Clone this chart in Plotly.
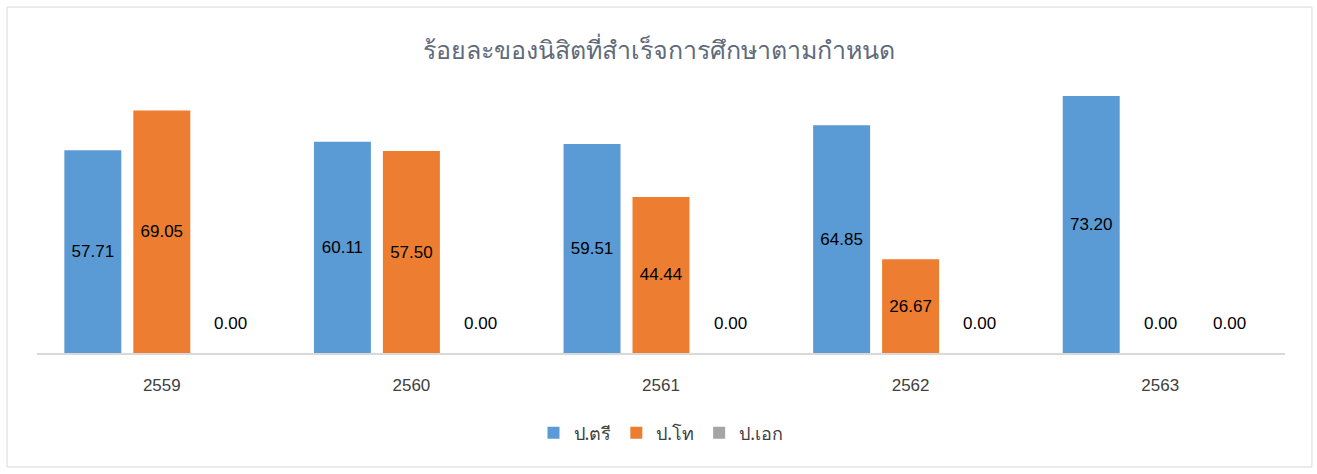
import plotly.graph_objects as go

years = ["2559", "2560", "2561", "2562", "2563"]
series_names = ["ป.ตรี", "ป.โท", "ป.เอก"]
bachelor = [57.71, 60.11, 59.51, 64.85, 73.20]
master = [69.05, 57.50, 44.44, 26.67, 0.00]
doctor = [0.00, 0.00, 0.00, 0.00, 0.00]
colors = ["#5B9BD5", "#ED7D31", "#A5A5A5"]

FONT = "Liberation Sans, Arial, Noto Sans, sans-serif"
THAI = "Noto Sans, DejaVu Sans, sans-serif"

fig = go.Figure()
all_values = [bachelor, master, doctor]
for name, vals, col in zip(series_names, all_values, colors):
    fig.add_trace(
        go.Bar(
            x=years,
            y=vals,
            name=name,
            marker=dict(color=col, line=dict(width=0)),
            text=[f"{v:.2f}" if v > 0 else "" for v in vals],
            textposition="inside",
            insidetextanchor="middle",
            textangle=0,
            textfont=dict(color="#000000", size=17, family=FONT),
            hoverinfo="skip",
        )
    )

# zero-value labels sit a bit above the baseline, as in the original
pitch = 69
for k, vals in enumerate(all_values):
    for i, v in enumerate(vals):
        if v == 0:
            fig.add_annotation(
                x=i, y=0, xref="x", yref="y",
                text=f"{v:.2f}", showarrow=False,
                xshift=(k - 1) * pitch, yshift=30,
                font=dict(color="#000000", size=17, family=FONT),
            )

# light frame around the chart area
fig.add_shape(
    type="rect", xref="paper", yref="paper",
    x0=-0.024, x1=1.0216, y0=-0.4057, y1=1.231,
    line=dict(color="#D9D9D9", width=1), fillcolor="rgba(0,0,0,0)",
    layer="below",
)

fig.update_layout(
    width=1317,
    height=474,
    margin=dict(l=37, r=32, t=72, b=121),
    paper_bgcolor="white",
    plot_bgcolor="white",
    barmode="group",
    bargap=0.171,
    bargroupgap=0.174,
    title=dict(
        text="ร้อยละของนิสิตที่สำเร็จการศึกษาตามกำหนด",
        x=0.5, xanchor="center", y=0.8945, yanchor="middle",
        font=dict(size=25, color="#5F6B7A", family=THAI),
    ),
    legend=dict(
        orientation="h", x=0.5, xanchor="center", y=-0.285, yanchor="middle",
        font=dict(size=18, color="#404040", family=THAI),
        itemsizing="constant", traceorder="normal",
    ),
    showlegend=True,
)
fig.update_xaxes(
    type="category",
    range=[-0.5, 4.5],
    showline=True, linecolor="#D9D9D9", linewidth=2,
    showgrid=False, ticks="outside", ticklen=16, tickcolor="rgba(0,0,0,0)",
    tickfont=dict(size=17, color="#404040", family=FONT),
)
fig.update_yaxes(range=[0, 80], visible=False, showgrid=False, zeroline=False)

fig.write_html(
    "out.html",
    config={"displayModeBar": False},
    post_script="document.body.style.margin='0';",
)
